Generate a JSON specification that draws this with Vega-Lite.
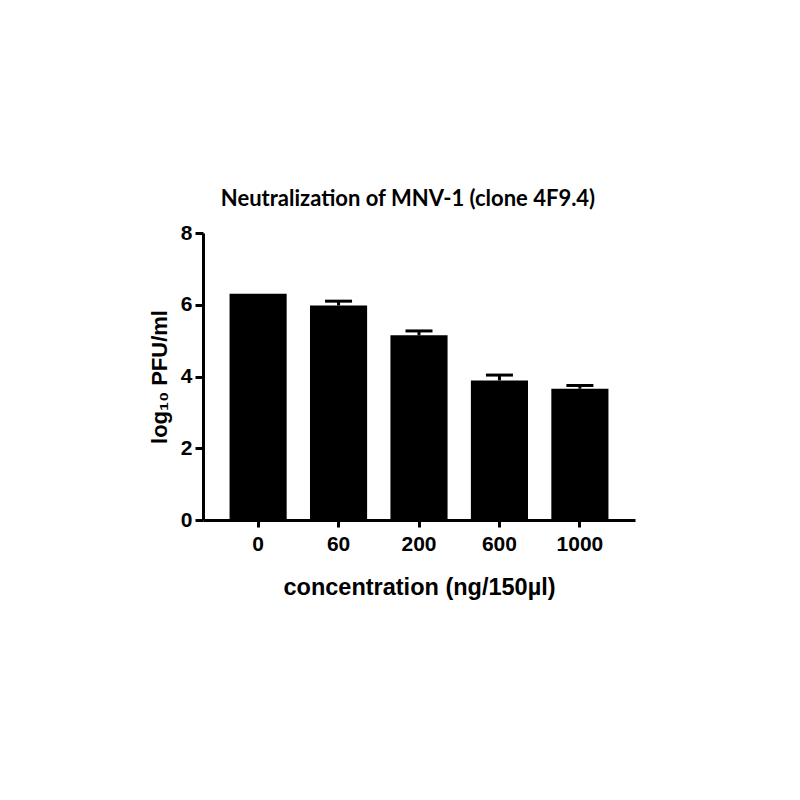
{
  "$schema": "https://vega.github.io/schema/vega-lite/v6.json",
  "autosize": "none",
  "padding": {"left": 203, "top": 233, "right": 165, "bottom": 280},
  "width": 432,
  "height": 287,
  "background": "white",
  "config": {
    "view": {"stroke": null},
    "axis": {
      "domainColor": "black",
      "domainWidth": 3,
      "tickColor": "black",
      "tickWidth": 3,
      "grid": false,
      "labelFont": "Liberation Sans",
      "labelFontWeight": "bold",
      "labelFontSize": 21,
      "labelColor": "black",
      "titleFont": "Liberation Sans",
      "titleFontWeight": "bold",
      "titleColor": "black"
    }
  },
  "title": {
    "text": "Neutralization of MNV-1 (clone 4F9.4)",
    "font": "Lato",
    "fontWeight": "bold",
    "fontSize": 22,
    "color": "black",
    "anchor": "middle",
    "dx": -11,
    "offset": 11
  },
  "data": {
    "values": [
      {"concentration": "0", "mean": 6.31, "upper": null},
      {"concentration": "60", "mean": 5.98, "upper": 6.1},
      {"concentration": "200", "mean": 5.15, "upper": 5.27},
      {"concentration": "600", "mean": 3.89, "upper": 4.04},
      {"concentration": "1000", "mean": 3.66, "upper": 3.75}
    ]
  },
  "encoding": {
    "x": {
      "field": "concentration",
      "type": "ordinal",
      "sort": null,
      "scale": {"paddingInner": 0.29, "paddingOuter": 0.33},
      "axis": {
        "title": "concentration (ng/150µl)",
        "titleFontSize": 23.5,
        "labelAngle": 0,
        "tickSize": 7,
        "labelPadding": 6,
        "titlePadding": 21
      }
    }
  },
  "layer": [
    {
      "mark": {"type": "bar", "color": "black"},
      "encoding": {
        "y": {
          "field": "mean",
          "type": "quantitative",
          "scale": {"domain": [0, 8]},
          "axis": {
            "title": "log₁₀ PFU/ml",
            "titleFontSize": 22,
            "values": [0, 2, 4, 6, 8],
            "tickSize": 8,
            "labelPadding": 3,
            "titlePadding": 9
          }
        }
      }
    },
    {
      "transform": [{"filter": "datum.upper != null"}],
      "mark": {"type": "rule", "color": "black", "strokeWidth": 3},
      "encoding": {
        "y": {"field": "mean", "type": "quantitative"},
        "y2": {"field": "upper"}
      }
    },
    {
      "transform": [{"filter": "datum.upper != null"}],
      "mark": {"type": "tick", "color": "black", "size": 27, "thickness": 3, "opacity": 1},
      "encoding": {
        "y": {"field": "upper", "type": "quantitative"}
      }
    }
  ]
}
